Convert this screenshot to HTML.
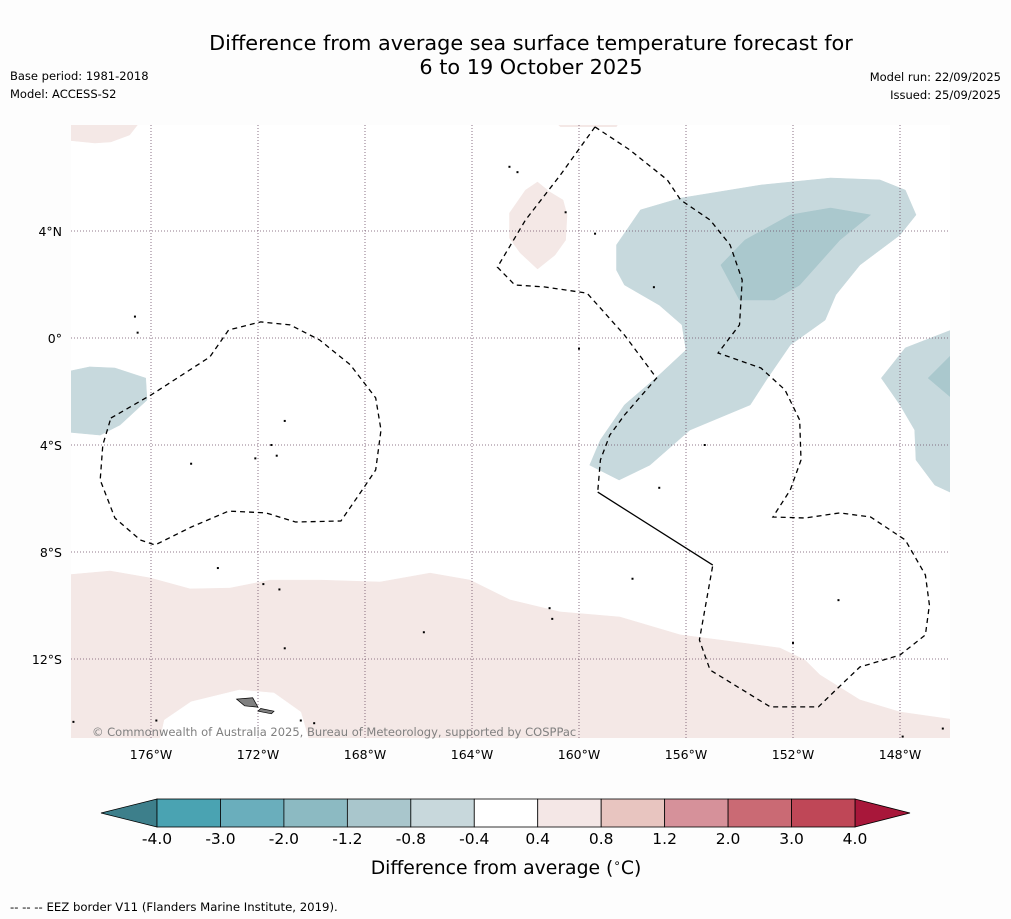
<!DOCTYPE html>
<html><head><meta charset="utf-8"><style>
body{margin:0;background:#fdfdfd;font-family:"DejaVu Sans","Liberation Sans",sans-serif;}
svg{display:block}
</style></head><body>
<svg id="chart" width="1011" height="919" viewBox="0 0 1011 919" font-family="DejaVu Sans, Liberation Sans, sans-serif">
<rect width="1011" height="919" fill="#fdfdfd"/>
<text x="531" y="50" text-anchor="middle" font-size="20.8" fill="#000">Difference from average sea surface temperature forecast for</text>
<text x="531" y="74" text-anchor="middle" font-size="20.8" fill="#000">6 to 19 October 2025</text>
<text x="10" y="80" font-size="11.5">Base period: 1981-2018</text>
<text x="10" y="98" font-size="11.5">Model: ACCESS-S2</text>
<text x="1001" y="81" font-size="11.5" text-anchor="end">Model run: 22/09/2025</text>
<text x="1001" y="99" font-size="11.5" text-anchor="end">Issued: 25/09/2025</text>
<defs><clipPath id="mapclip"><rect x="71" y="125" width="879" height="613"/></clipPath></defs>
<rect x="71" y="125" width="879" height="613" fill="#ffffff"/>
<g id="map" clip-path="url(#mapclip)"></g>
<g id="axes"></g>
<text x="92" y="736" font-size="11.5" fill="#808080">© Commonwealth of Australia 2025, Bureau of Meteorology, supported by COSPPac</text>
<g id="cbar"></g>
<text x="506" y="874" text-anchor="middle" font-size="18.8">Difference from average (<tspan baseline-shift="super" font-size="12">∘</tspan>C)</text>
<text x="10" y="911" font-size="11.7">--  --  -- EEZ border V11 (Flanders Marine Institute, 2019).</text>
</svg>
<script>
const NS='http://www.w3.org/2000/svg';
const lonTicks=[-176,-172,-168,-164,-160,-156,-152,-148];
const latTicks=[4,0,-4,-8,-12];
const cbarLevels=[-4.0,-3.0,-2.0,-1.2,-0.8,-0.4,0.4,0.8,1.2,2.0,3.0,4.0];
const cbarColors=['#4aa3b2','#6aaebc','#8cbac2','#a9c6cc','#c8d8dc','#ffffff','#f4e7e6','#e8c5c0','#d6919a','#ca6a74','#bf4757'];
const blueLight=[[-157.7,4.79],[-156.2,5.23],[-153.2,5.72],[-150.6,5.98],[-148.75,5.91],[-147.8,5.53],[-147.4,4.6],[-148.0,3.85],[-149.5,2.73],[-150.4,1.61],[-150.8,0.67],[-152.1,-0.26],[-153.0,-1.57],[-153.6,-2.5],[-155.85,-3.44],[-157.35,-4.75],[-158.5,-5.31],[-159.6,-4.75],[-159.2,-3.81],[-158.3,-2.5],[-157.0,-1.38],[-156.0,-0.45],[-156.15,0.49],[-157.0,1.23],[-158.3,1.98],[-158.6,2.54],[-158.6,3.48]];
const blueDark=[[-154.7,2.73],[-153.8,3.66],[-152.1,4.6],[-150.6,4.86],[-149.1,4.6],[-150.25,3.66],[-151.75,1.98],[-152.7,1.42],[-154.0,1.42]];
const blueWest=[[-179.2,-1.27],[-178.3,-1.08],[-177.35,-1.12],[-176.2,-1.5],[-176.15,-2.32],[-177.15,-3.25],[-177.9,-3.63],[-179.2,-3.51]];
const blueEast=[[-145.9,0.37],[-147.8,-0.37],[-148.7,-1.5],[-148.0,-2.5],[-147.45,-3.44],[-147.4,-4.56],[-146.7,-5.5],[-145.9,-5.87]];
const blueEastDark=[[-145.9,-0.45],[-146.95,-1.5],[-145.9,-2.39]];
const pinkNW=[[-179.2,8.1],[-176.4,8.1],[-176.8,7.59],[-177.5,7.33],[-178.1,7.29],[-179.2,7.4]];
const pinkN=[[-162.6,4.67],[-162.0,5.53],[-161.55,5.83],[-161.1,5.46],[-160.6,5.16],[-160.45,4.6],[-160.5,3.66],[-160.9,3.1],[-161.55,2.58],[-162.2,3.18],[-162.6,3.74]];
const pinkTop=[[-160.9,8.1],[-158.5,8.1],[-158.6,7.9],[-160.7,7.9]];
const pinkSouth=[[-179.2,-8.86],[-177.53,-8.71],[-176.04,-8.97],[-174.54,-9.38],[-173.05,-9.35],[-171.55,-9.05],[-169.68,-9.05],[-167.44,-9.12],[-165.57,-8.79],[-164.07,-9.05],[-162.58,-9.79],[-160.71,-10.24],[-158.47,-10.43],[-156.21,-11.1],[-154.73,-11.29],[-152.49,-11.59],[-151.55,-12.04],[-150.99,-12.6],[-149.5,-13.53],[-148.0,-13.98],[-145.9,-14.28],[-145.9,-15.2],[-179.2,-15.2]];
const whiteHole=[[-175.7,-15.2],[-175.5,-14.28],[-174.5,-13.6],[-172.7,-13.16],[-171.4,-13.27],[-170.4,-13.98],[-170.05,-15.2]];
const eezWest=[[-177.5,-2.99],[-176.0,-2.13],[-173.8,-0.71],[-173.1,0.3],[-171.9,0.6],[-170.8,0.49],[-169.7,-0.07],[-168.55,-1.0],[-167.6,-2.24],[-167.4,-3.44],[-167.6,-4.93],[-168.1,-5.68],[-168.9,-6.84],[-170.6,-6.88],[-171.7,-6.54],[-173.1,-6.47],[-174.5,-7.07],[-175.85,-7.74],[-176.4,-7.55],[-177.35,-6.73],[-177.9,-5.31],[-177.8,-4.0],[-177.5,-2.99]];
const eezEast=[[-159.4,7.89],[-158.1,7.03],[-156.7,5.91],[-156.2,5.16],[-155.1,4.41],[-154.35,3.48],[-153.9,2.17],[-154.0,0.49],[-154.8,-0.56],[-153.2,-1.12],[-152.3,-1.94],[-151.75,-3.07],[-151.7,-4.56],[-152.1,-5.68],[-152.75,-6.69],[-151.55,-6.73],[-150.25,-6.54],[-149.1,-6.69],[-147.8,-7.55],[-147.05,-8.86],[-146.9,-9.98],[-147.05,-11.1],[-148.0,-11.85],[-149.5,-12.3],[-150.4,-13.16],[-151.05,-13.79],[-152.85,-13.79],[-155.1,-12.41],[-155.5,-11.29],[-155.0,-8.49]];
const eezCentre=[[-159.4,7.89],[-160.7,6.09],[-162.0,4.41],[-163.05,2.65],[-162.4,1.98],[-161.3,1.91],[-159.7,1.68],[-158.3,0.11],[-157.1,-1.5],[-158.3,-2.88],[-158.85,-3.63],[-159.2,-4.56],[-159.3,-5.76]];
const eezSolid=[[-159.3,-5.76],[-155.0,-8.49]];
const islands=[[-175.8,-14.3],[-178.9,-14.35],[-171.5,-4.0],[-171.0,-3.1],[-172.1,-4.5],[-174.5,-4.7],[-171.3,-4.4],[-173.5,-8.6],[-171.8,-9.2],[-171.2,-9.4],[-171.0,-11.6],[-165.8,-11.0],[-161.1,-10.1],[-161.0,-10.5],[-158.0,-9.0],[-157.0,-5.6],[-155.3,-4.0],[-160.0,-0.4],[-157.2,1.9],[-159.4,3.9],[-160.5,4.7],[-162.3,6.2],[-162.6,6.4],[-150.3,-9.8],[-152.0,-11.4],[-170.4,-14.3],[-169.9,-14.4],[-147.9,-14.9],[-146.4,-14.6],[-176.6,0.8],[-176.5,0.2]];
const samoa=[[[-172.8,-13.5],[-172.2,-13.45],[-172.0,-13.8],[-172.5,-13.75]],[[-171.9,-13.85],[-171.4,-13.95],[-171.5,-14.05],[-172.0,-13.95]]];

const X=lon=>151+(lon+176)*26.75;
const Y=lat=>338-lat*26.75;
const map=document.getElementById('map'),axes=document.getElementById('axes'),cbar=document.getElementById('cbar');
function el(tag,attrs,parent){const e=document.createElementNS(NS,tag);for(const k in attrs)e.setAttribute(k,attrs[k]);parent.appendChild(e);return e;}
function pts(a){return a.map(p=>X(p[0]).toFixed(1)+','+Y(p[1]).toFixed(1)).join(' ');}
function poly(a,fill,name){const e=el('polygon',{points:pts(a),fill:fill,stroke:fill,'stroke-width':0.5},map);

}
poly(pinkSouth,'#f4e8e6','anomaly-0.4-0.8-south');
poly(whiteHole,'#ffffff','neutral-area-samoa');
poly(pinkNW,'#f4e8e6','anomaly-0.4-0.8-northwest');
poly(pinkN,'#f4e8e6','anomaly-0.4-0.8-north');
poly(pinkTop,'#f4e8e6','anomaly-0.4-0.8-top');
poly(blueLight,'#c7d9dd','anomaly-neg0.8-neg0.4-east');
poly(blueDark,'#aac8cd','anomaly-neg1.2-neg0.8-east');
poly(blueWest,'#c7d9dd','anomaly-neg0.8-neg0.4-west');
poly(blueEast,'#c7d9dd','anomaly-neg0.8-neg0.4-far-east');
poly(blueEastDark,'#aac8cd','anomaly-neg1.2-neg0.8-far-east');
lonTicks.forEach(l=>{const g=el('line',{x1:X(l),x2:X(l),y1:125,y2:738,stroke:'#6e4f66','stroke-width':0.8,'stroke-dasharray':'1,2'},map);

});
latTicks.forEach(l=>{const g=el('line',{x1:71,x2:950,y1:Y(l),y2:Y(l),stroke:'#6e4f66','stroke-width':0.8,'stroke-dasharray':'1,2'},map);

});
function line(a,dash,name){const e=el('polyline',{points:pts(a),fill:'none',stroke:'#000','stroke-width':1.3,'stroke-dasharray':dash},map);

}
line(eezWest,'5,4','eez-border-west');
line(eezEast,'5,4','eez-border-east');
line(eezCentre,'5,4','eez-border-centre');
line(eezSolid,'','eez-border-solid');
islands.forEach(p=>{const e=el('rect',{x:X(p[0])-1,y:Y(p[1])-1,width:2,height:2,fill:'#000'},map);

});
samoa.forEach(s=>{const e=el('polygon',{points:pts(s),fill:'#808080',stroke:'#000','stroke-width':0.7},map);

});
lonTicks.forEach(l=>{const t=el('text',{x:X(l),y:759,'text-anchor':'middle','font-size':12.5},axes);t.textContent=Math.abs(l)+'°W';

});
latTicks.forEach(l=>{const t=el('text',{x:62,y:Y(l)+5,'text-anchor':'end','font-size':12.5},axes);t.textContent=l===0?'0°':Math.abs(l)+'°'+(l>0?'N':'S');

});
const cx0=157,cx1=855,cy=799,ch=28,n=cbarColors.length,bw=(cx1-cx0)/n;
const lt=el('polygon',{points:`101,${cy+ch/2} ${cx0},${cy} ${cx0},${cy+ch}`,fill:'#3d7f8b',stroke:'#000','stroke-width':0.8},cbar);


const rt=el('polygon',{points:`910,${cy+ch/2} ${cx1},${cy} ${cx1},${cy+ch}`,fill:'#a8173a',stroke:'#000','stroke-width':0.8},cbar);


cbarColors.forEach((c,i)=>{const r=el('rect',{x:cx0+i*bw,y:cy,width:bw,height:ch,fill:c,stroke:'#000','stroke-width':0.8},cbar);

});
cbarLevels.forEach((v,i)=>{const t=el('text',{x:cx0+i*bw,y:844,'text-anchor':'middle','font-size':15.5},cbar);t.textContent=v.toFixed(1);

});
</script>
</body></html>
